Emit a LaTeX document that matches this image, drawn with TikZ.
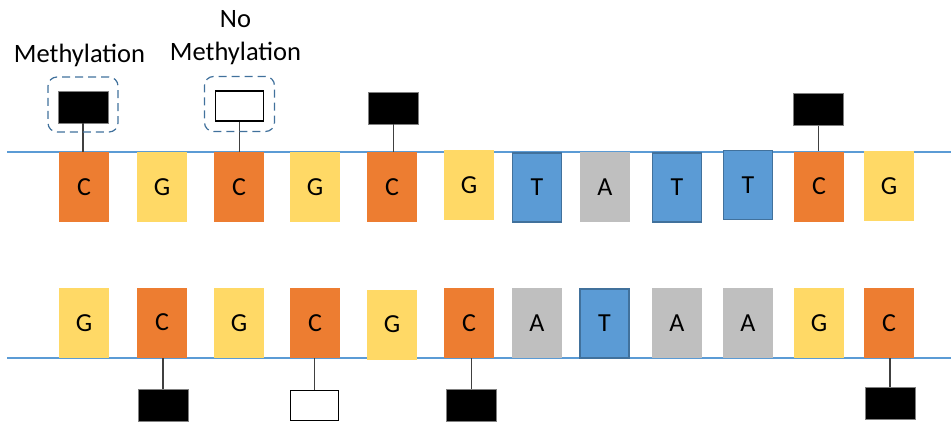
\documentclass[tikz,border=0pt]{standalone}
\usepackage{fontspec}
\setmainfont{Carlito}
\definecolor{cOrange}{HTML}{ED7D31}
\definecolor{cYellow}{HTML}{FFD966}
\definecolor{cBlue}{HTML}{5B9BD5}
\definecolor{cBlueDark}{HTML}{41719C}
\definecolor{cGray}{HTML}{BFBFBF}
\definecolor{cLink}{HTML}{404040}
\definecolor{cFrame}{HTML}{41719C}
\begin{document}
\begin{tikzpicture}[x=1pt,y=-1pt,
  nuc/.style={minimum width=50pt, minimum height=70pt, inner sep=0pt,
    font=\fontsize{26}{31}\selectfont, text=black},
  cyt/.style={nuc, fill=cOrange},
  gua/.style={nuc, fill=cYellow},
  thy/.style={nuc, fill=cBlue, draw=cBlueDark, line width=1.2pt,
    minimum width=49pt, minimum height=69pt},
  ade/.style={nuc, fill=cGray},
  meth/.style={minimum width=50pt, minimum height=32pt, inner sep=0pt,
    fill=black, draw=gray, line width=0.6pt},
  unmeth/.style={minimum width=48pt, minimum height=30pt, inner sep=0pt,
    fill=white, draw=black, line width=1.3pt},
  strand/.style={draw=cBlue, line width=1.1pt},
  link/.style={draw=cLink, line width=1.1pt},
  frame/.style={draw=cFrame, dash pattern=on 8pt off 5pt, rounded corners=9pt,
    line width=1.2pt, minimum width=70pt, minimum height=55pt, inner sep=0pt},
  lab/.style={font=\fontsize{26.5}{33}\selectfont, inner sep=0pt}]
\useasboundingbox (0,0) rectangle (951,423);

% the two backbone strands
\coordinate (sL1) at (7,152);
\coordinate (sR1) at (951,152);
\coordinate (sL2) at (7,358);
\coordinate (sR2) at (951,358);
\draw[strand] (sL1) -- (sR1);
\draw[strand] (sL2) -- (sR2);

% upper strand
\node[cyt] (t1)  at (84,187)    {C};
\node[gua] (t2)  at (162,187)   {G};
\node[cyt] (t3)  at (239,187)   {C};
\node[gua] (t4)  at (315,187)   {G};
\node[cyt] (t5)  at (392,187)   {C};
\node[gua] (t6)  at (469,185)   {G};
\node[thy] (t7)  at (537,187.5) {T};
\node[ade] (t8)  at (605,187)   {A};
\node[thy] (t9)  at (677,187.5) {T};
\node[thy] (t10) at (748,185)   {T};
\node[cyt] (t11) at (819,186.5) {C};
\node[gua] (t12) at (889,186)   {G};

% lower strand
\node[gua] (b1)  at (84,323)    {G};
\node[cyt] (b2)  at (162,322.5) {C};
\node[gua] (b3)  at (239,323)   {G};
\node[cyt] (b4)  at (315,323)   {C};
\node[gua] (b5)  at (392,324.5) {G};
\node[cyt] (b6)  at (469,323)   {C};
\node[ade] (b7)  at (537,323)   {A};
\node[thy] (b8)  at (604.5,323.5) {T};
\node[ade] (b9)  at (677,323)   {A};
\node[ade] (b10) at (748,323)   {A};
\node[gua] (b11) at (819,323)   {G};
\node[cyt] (b12) at (889,323)   {C};

% methyl tags on the upper strand
\node[meth]   (m1) at (83,107)     {};
\node[unmeth] (m2) at (239.5,106)  {};
\node[meth]   (m3) at (393.5,108)  {};
\node[meth]   (m4) at (818.5,109.5) {};
\draw[link] (m1.south) -- (m1.south |- t1.north);
\draw[link] (m2.south) -- (m2.south |- t3.north);
\draw[link] (m3.south) -- (m3.south |- t5.north);
\draw[link] (m4.south) -- (m4.south |- t11.north);

% methyl tags on the lower strand
\node[meth]   (n1) at (163,405.5)   {};
\node[unmeth] (n2) at (314.5,405.5) {};
\node[meth]   (n3) at (471.5,405.5) {};
\node[meth]   (n4) at (890,403)     {};
\draw[link] (n1.north) -- (n1.north |- b2.south);
\draw[link] (n2.north) -- (n2.north |- b4.south);
\draw[link] (n3.north) -- (n3.north |- b6.south);
\draw[link] (n4.north) -- (n4.north |- b12.south);

% legend frames and labels
\node[frame] (f1) at (83,104.5)  {};
\node[frame] (f2) at (239.5,104) {};
\node[lab, anchor=base] (l1) at (79.5,62) {Methylation};
\node[lab, anchor=base, align=center] (l2) at (235.5,60) {No\\Methylation};
\end{tikzpicture}
\end{document}
